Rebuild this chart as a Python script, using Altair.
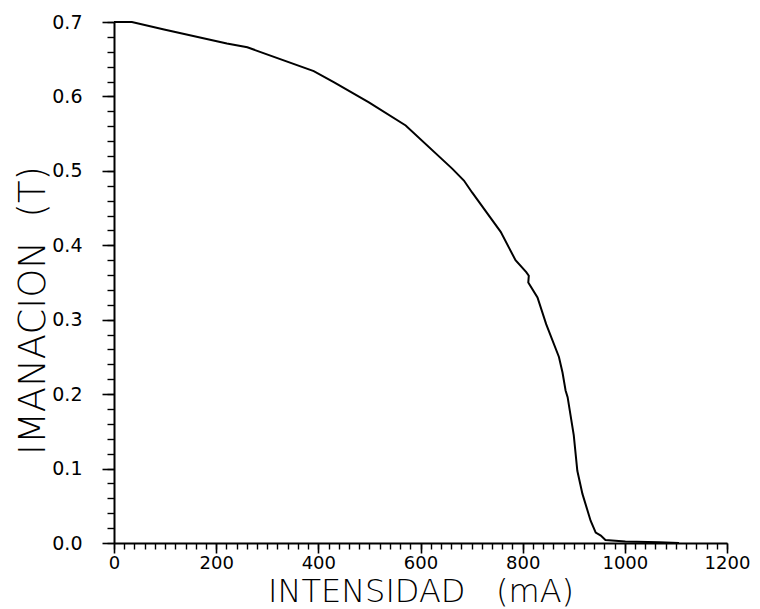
import altair as alt
import pandas as pd

intensidad = [0, 35, 98, 221, 261, 391, 431, 499, 571, 662, 685, 701, 757, 786,
              807, 812, 811, 829, 846, 871, 878, 884, 888, 900, 907, 917, 933,
              943, 953, 962, 1001, 1067, 1106]
imanacion = [0.700, 0.700, 0.690, 0.671, 0.666, 0.634, 0.619, 0.592, 0.561,
             0.503, 0.487, 0.471, 0.418, 0.380, 0.364, 0.359, 0.350, 0.330,
             0.294, 0.250, 0.229, 0.205, 0.196, 0.145, 0.097, 0.066, 0.030,
             0.014, 0.010, 0.004, 0.002, 0.001, 0.000]

x_major = [0, 200, 400, 600, 800, 1000, 1200]
x_minor = list(range(0, 1201, 20))
y_major = [0.0, 0.1, 0.2, 0.3, 0.4, 0.5, 0.6, 0.7]
y_minor = [round(i * 0.02, 2) for i in range(36)]

df = pd.DataFrame({"x": intensidad, "y": imanacion, "i": range(len(intensidad))})

FONT = "DejaVu Sans"

xscale = alt.Scale(domain=[0, 1200], nice=False, zero=False)
yscale = alt.Scale(domain=[0, 0.7], nice=False, zero=False)

main = alt.Chart(df).mark_line(color="black", strokeWidth=2).encode(
    x=alt.X("x:Q", scale=xscale,
            axis=alt.Axis(orient="bottom", values=x_major, format="d",
                          title="INTENSIDAD\u00a0\u00a0\u00a0(mA)",
                          titleFont=FONT, titleFontSize=32, titleFontWeight=200,
                          titleColor="black", titleY=48, titleBaseline="middle",
                          labelFont=FONT, labelFontSize=18, labelColor="black",
                          labelPadding=1, tickSize=10, tickWidth=1.6, tickColor="black",
                          domainColor="black", domainWidth=2, grid=False,
                          labelFlush=False, labelOverlap=False)),
    y=alt.Y("y:Q", scale=yscale,
            axis=alt.Axis(orient="left", values=y_major, format=".1f",
                          title="IMANACION\u00a0\u00a0(T)",
                          titleFont=FONT, titleFontSize=37, titleFontWeight=200,
                          titleColor="black", titleAngle=270, titleX=-81, titleY=288,
                          titleAlign="center", titleBaseline="middle",
                          labelFont=FONT, labelFontSize=19, labelColor="black",
                          labelPadding=20, tickSize=12, tickWidth=1.6, tickColor="black",
                          domainColor="black", domainWidth=2, grid=False,
                          labelFlush=False, labelOverlap=False)),
    order="i:Q",
)

minor = alt.Chart(df).mark_line(strokeOpacity=0).encode(
    x=alt.X("x:Q", scale=xscale,
            axis=alt.Axis(orient="bottom", values=x_minor, labels=False, title=None,
                          tickSize=6, tickWidth=1.4, tickColor="black",
                          domain=False, grid=False)),
    y=alt.Y("y:Q", scale=yscale,
            axis=alt.Axis(orient="left", values=y_minor, labels=False, title=None,
                          tickSize=7, tickWidth=1.4, tickColor="black",
                          domain=False, grid=False)),
    order="i:Q",
)

chart = alt.layer(main, minor).resolve_axis(x="independent", y="independent").properties(
    width=613, height=521,
    autosize=alt.AutoSizeParams(type="none"),
    padding={"left": 114, "top": 22, "right": 33, "bottom": 66},
    background="white",
).configure_view(stroke=None)

chart.save("out.html", embed_options={"renderer": "svg", "actions": False})
